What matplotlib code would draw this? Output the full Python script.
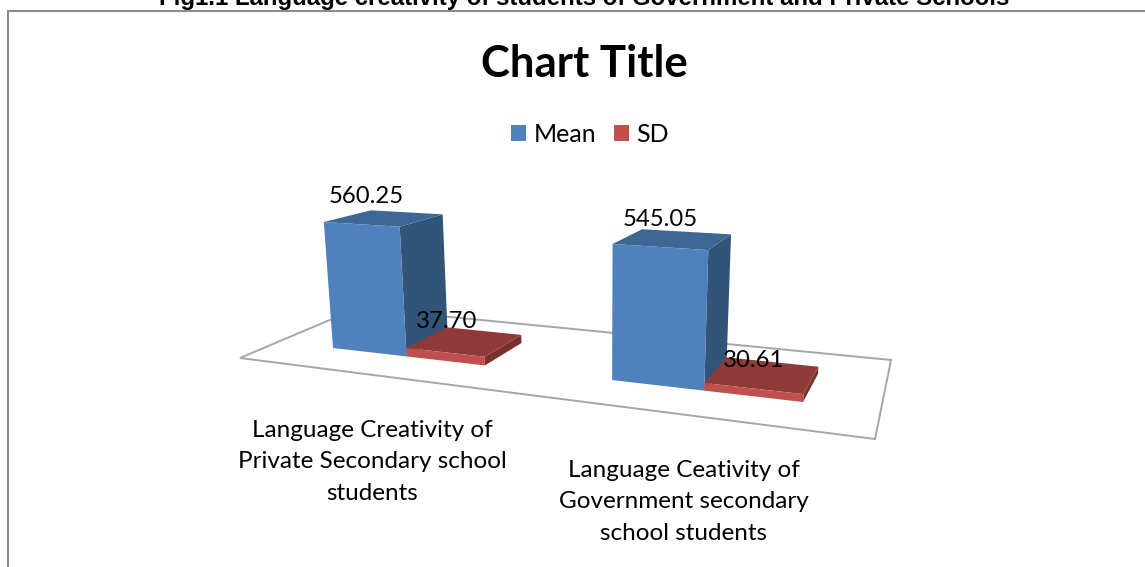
import numpy as np
import matplotlib
matplotlib.use("Agg")
import matplotlib.pyplot as plt
from matplotlib.patches import Polygon, Patch

categories = ["Language Creativity of\nPrivate Secondary school\nstudents",
              "Language Ceativity of\nGovernment secondary\nschool students"]
series = ["Mean", "SD"]
mean_vals = [560.25, 545.05]
sd_vals = [37.70, 30.61]
value_text = [["560.25", "545.05"], ["37.70", "30.61"]]

front_colors = ["#4F81BD", "#C0504D"]
side_colors = ["#325479", "#7A302E"]
top_colors = ["#3E6795", "#8F3A38"]
floor_color = "#A6A6A6"
frame_color = "#8C8C8C"
text_font = ["Lato", "DejaVu Sans"]

bar_w = 1 / 3.5
gap_x = 0.75 * bar_w

# bar grid on the floor: category axis and depth 0..1, mapped on to the page
grid_src = np.array([[gap_x, 0], [1 + gap_x + 2 * bar_w, 0],
                     [1 + gap_x + 2 * bar_w, 1], [gap_x, 1]], dtype=float)
grid_dst = np.array([[333, 348], [803, 402], [818, 374], [378, 328]], dtype=float)
floor_outline = np.array([[240, 358], [875, 439], [891, 360], [358, 308]], dtype=float)


def solve_homography(src, dst):
    rows, rhs = [], []
    for (x, z), (u, v) in zip(src, dst):
        rows.append([x, z, 1, 0, 0, 0, -u * x, -u * z])
        rows.append([0, 0, 0, x, z, 1, -v * x, -v * z])
        rhs += [u, v]
    h = np.linalg.solve(np.array(rows), np.array(rhs))
    return np.append(h, 1).reshape(3, 3)


H = solve_homography(grid_src, grid_dst)
vanish = np.array([600.0, 4000.0, 1.0])
value_scale = -0.0326 / 560


def project(x, z, val):
    p = H @ np.array([x, z, 1.0]) + val * value_scale * vanish
    return p[0] / p[2], p[1] / p[2]


fig = plt.figure(figsize=(11.45, 5.67), dpi=100)
ax = fig.add_axes([0, 0, 1, 1])
ax.set_xlim(0, 1145)
ax.set_ylim(567, 0)
ax.axis("off")

# outer chart frame, cut by the page on the right and bottom
ax.plot([8, 8, 1145], [567, 11, 11], color=frame_color, lw=1.5, solid_joinstyle="miter")

ax.text(584, 5, "Fig1.1 Language creativity of students of Government and Private Schools",
        family="Liberation Sans", weight="bold", fontsize=17.3, ha="center", va="baseline",
        color="black", clip_on=False)
ax.text(584, 64, "Chart Title", family=text_font, weight="bold", fontsize=31.5, ha="center",
        va="center", color="black")

ax.add_patch(Polygon(floor_outline, closed=True, fill=False, edgecolor=floor_color, lw=1.4))

all_vals = [mean_vals, sd_vals]
label_shift = [[(-18, -22), (-13, -20)], [(-18, -20), (-9, -14)]]

for c in range(len(categories)):
    for s in range(len(series)):
        x0 = c + gap_x + s * bar_w
        x1 = x0 + bar_w
        v = all_vals[s][c]
        side = [project(x1, 0, 0), project(x1, 1, 0), project(x1, 1, v), project(x1, 0, v)]
        top = [project(x0, 0, v), project(x1, 0, v), project(x1, 1, v), project(x0, 1, v)]
        front = [project(x0, 0, 0), project(x1, 0, 0), project(x1, 0, v), project(x0, 0, v)]
        ax.add_patch(Polygon(side, closed=True, facecolor=side_colors[s], edgecolor="none"))
        ax.add_patch(Polygon(top, closed=True, facecolor=top_colors[s], edgecolor="none"))
        ax.add_patch(Polygon(front, closed=True, facecolor=front_colors[s], edgecolor="none"))

for c in range(len(categories)):
    for s in range(len(series)):
        x0 = c + gap_x + s * bar_w
        px, py = project(x0 + bar_w / 2, 0.5, all_vals[s][c])
        dx, dy = label_shift[s][c]
        ax.text(px + dx, py + dy, value_text[s][c], family=text_font, fontsize=17.2,
                ha="center", va="center", color="black")

label_pos = [(372, 462), (684, 502)]
for name, (lx, ly) in zip(categories, label_pos):
    ax.text(lx, ly, name, family=text_font, fontsize=17.5, ha="center", va="center",
            linespacing=1.6, color="black")

handles = [Patch(facecolor=front_colors[i], edgecolor="none") for i in range(2)]
ax.legend(handles, series, loc="center", bbox_to_anchor=(590, 134),
          bbox_transform=ax.transData, ncol=2, frameon=False, handlelength=0.6, handleheight=0.6,
          handletextpad=0.29, columnspacing=0.7, prop={"family": text_font, "size": 18})

fig.savefig("out.png", dpi=100)
